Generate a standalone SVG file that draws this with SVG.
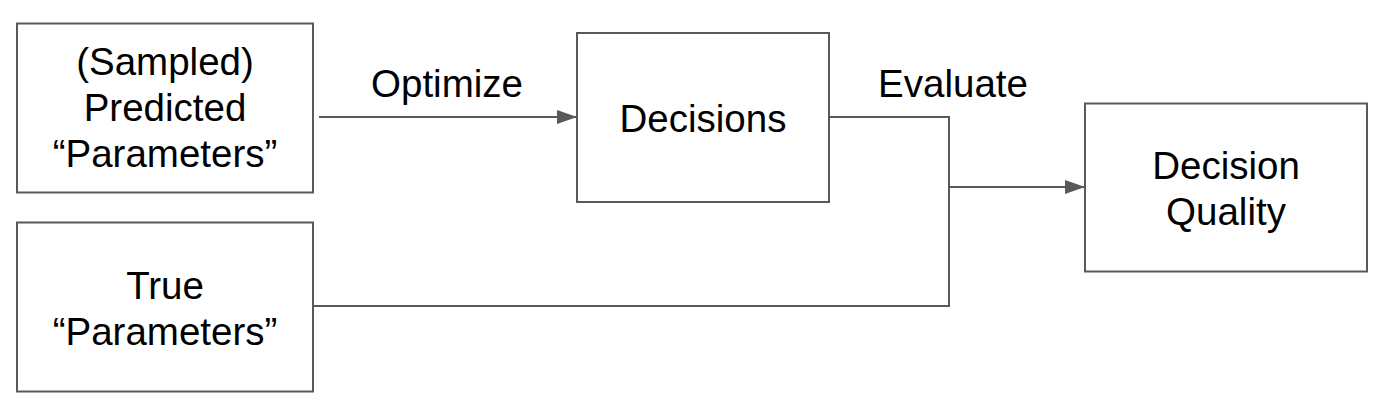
<svg xmlns="http://www.w3.org/2000/svg" width="1394" height="412" viewBox="0 0 1394 412">
<style>
.box{fill:#fff;stroke:#595959;stroke-width:2}
.t{font-family:"Liberation Sans",Arial,sans-serif;font-size:38.5px;fill:#000;text-anchor:middle}
.c{fill:none;stroke:#595959;stroke-width:2}
</style>
<defs>
<marker id="ah" markerWidth="10" markerHeight="7" refX="10" refY="3.5" orient="auto" markerUnits="userSpaceOnUse" viewBox="0 0 10 7">
<path d="M0,0 L10,3.5 L0,7 Z" fill="#595959"/>
</marker>
<marker id="a" viewBox="0 0 20 14" refX="20" refY="7" markerWidth="20" markerHeight="14" markerUnits="userSpaceOnUse" orient="auto">
<path d="M0,0 L20,7 L0,14 Z" fill="#595959"/>
</marker>
</defs>
<rect width="1394" height="412" fill="#fff"/>
<g id="connectors">
<line class="c" x1="319" y1="117" x2="577" y2="117" marker-end="url(#a)"/>
<polyline class="c" points="829,117 949,117 949,306 313,306"/>
<line class="c" x1="949" y1="187" x2="1085" y2="187" marker-end="url(#a)"/>
<text class="t" x="447" y="97">Optimize</text>
<text class="t" x="953" y="97">Evaluate</text>
</g>
<g id="sampled">
<rect class="box" x="17" y="23.5" width="296" height="169"/>
<text class="t" x="165" y="75">(Sampled)</text>
<text class="t" x="165" y="121">Predicted</text>
<text class="t" x="165" y="167">“Parameters”</text>
</g>
<g id="decisions">
<rect class="box" x="577" y="33" width="252" height="169"/>
<text class="t" x="703" y="132">Decisions</text>
</g>
<g id="quality">
<rect class="box" x="1085" y="103.5" width="282" height="168"/>
<text class="t" x="1226" y="179">Decision</text>
<text class="t" x="1226" y="225">Quality</text>
</g>
<g id="true">
<rect class="box" x="17" y="222.5" width="296" height="169"/>
<text class="t" x="165" y="299">True</text>
<text class="t" x="165" y="345">“Parameters”</text>
</g>
</svg>
